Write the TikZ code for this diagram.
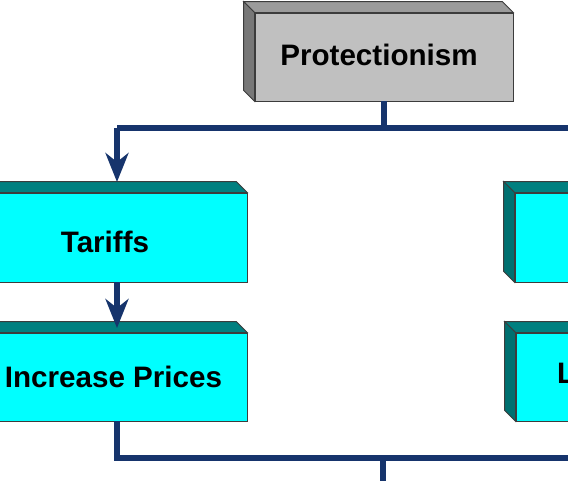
\documentclass[tikz,border=0pt]{standalone}
\usepackage{fontspec}
\setmainfont{Liberation Sans}
\usetikzlibrary{arrows.meta}
\definecolor{navy}{RGB}{22,52,108}
\definecolor{boxcyan}{RGB}{0,255,255}
\definecolor{boxteal}{RGB}{0,128,128}
\definecolor{boxtealdark}{RGB}{0,112,112}
\definecolor{gfront}{RGB}{192,192,192}
\definecolor{gtop}{RGB}{155,155,155}
\definecolor{gside}{RGB}{120,120,120}
\definecolor{edge}{RGB}{60,60,60}
\newcommand\boxfaces[3]{%
  \draw[edge, line width=0.8pt, fill=#2] (#1.north west) -- ++(-11,-11)
    -- ([shift={(-11,-11)}]#1.north east) -- (#1.north east) -- cycle;
  \draw[edge, line width=0.8pt, fill=#3] (#1.north west) -- ++(-11,-11)
    -- ([shift={(-11,-11)}]#1.south west) -- (#1.south west) -- cycle;
}
\begin{document}
\begin{tikzpicture}[x=1pt,y=-1pt,
  face/.style={draw=edge, line width=0.8pt, inner sep=0pt, fill=#1},
  label/.style={inner sep=0pt, font=\fontsize{29.6}{32}\selectfont\bfseries},
  conn/.style={draw=navy, line width=6.5pt, line join=miter},
  tip/.style={-{Stealth[length=29pt,width=23pt,inset=9pt]}}]
\useasboundingbox (0,0) rectangle (568,480);
\clip (0,0) rectangle (568,480);
% front faces
\node[face=gfront, minimum width=258pt, minimum height=88pt] (prot) at (384,57) {};
\node[face=boxcyan, minimum width=267pt, minimum height=89pt] (tariffs) at (113.5,237.5) {};
\node[face=boxcyan, minimum width=267pt, minimum height=88pt] (incr) at (113.5,377) {};
\node[face=boxcyan, minimum width=267pt, minimum height=89pt] (rtop) at (648.5,237.5) {};
\node[face=boxcyan, minimum width=267pt, minimum height=88pt] (rbot) at (649.5,377) {};
% extruded faces
\boxfaces{prot}{gtop}{gside}
\boxfaces{tariffs}{boxteal}{boxtealdark}
\boxfaces{incr}{boxteal}{boxtealdark}
\boxfaces{rtop}{boxteal}{boxtealdark}
\boxfaces{rbot}{boxteal}{boxtealdark}
% texts
\node[label, anchor=base] (tprot) at (379,65) {Protectionism};
\node[label, anchor=base] (ttar) at (105,252) {Tariffs};
\node[label, anchor=base] (tinc) at (113.5,387) {Increase Prices};
\node[label, anchor=base west] (trb) at (557,383) {L};
% connector coordinates
\coordinate (jm) at (prot.south |- 0,128);
\coordinate (jl) at (117,128);
\coordinate (jr) at (590,128);
\coordinate (tartop) at (117,182);
\coordinate (tarbot) at (117,282);
\coordinate (inctop) at (117,328);
\coordinate (incbot) at (117,421);
\coordinate (bl) at (117,458);
\coordinate (br) at (590,458);
\coordinate (bm) at (383,458);
\coordinate (bd) at (383,495);
% connectors
\draw[conn] (prot.south) -- (jm);
\draw[conn] (jr) -- (jl);
\draw[conn, tip] (jl) -- (tartop);
\draw[conn, tip] (tarbot) -- (inctop);
\draw[conn] (incbot) -- (bl) -- (br);
\draw[conn] (bm) -- (bd);
\end{tikzpicture}
\end{document}
